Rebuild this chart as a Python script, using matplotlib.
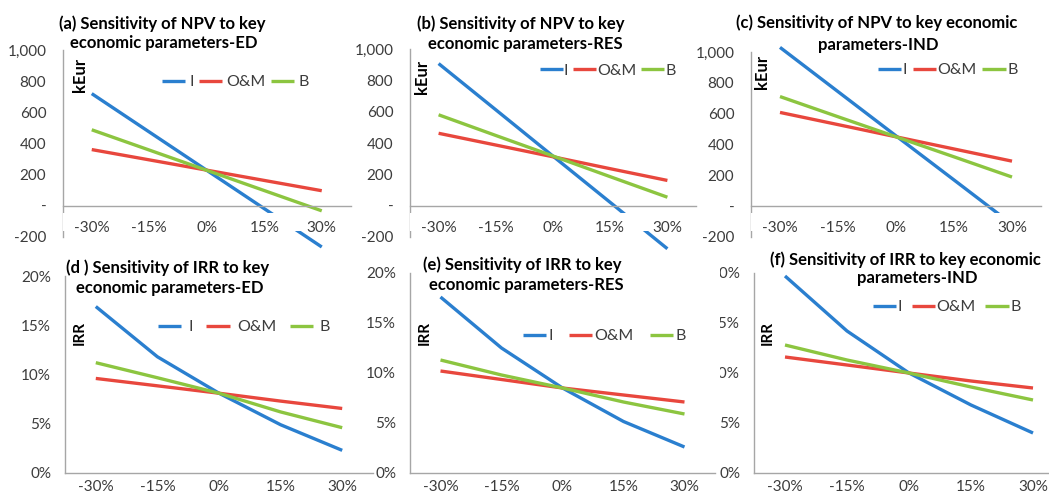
import matplotlib
matplotlib.use("Agg")
import matplotlib.pyplot as plt
import numpy as np
from matplotlib.patches import Rectangle

plt.rcParams['font.family'] = ['Lato', 'DejaVu Sans']

# ---------------- data ----------------
categories = ["-30%", "-15%", "0%", "15%", "30%"]
series_names = ["I", "O&M", "B"]

npv_ed_I = [720, 474, 228, -18, -264]
npv_ed_OM = [361, 295, 229, 163, 97]
npv_ed_B = [488, 358, 228, 98, -32]

npv_res_I = [907, 612, 316, 21, -275]
npv_res_OM = [462, 387, 312, 236, 161]
npv_res_B = [580, 448, 317, 185, 54]

npv_ind_I = [1030, 743, 456, 170, -117]
npv_ind_OM = [608, 529, 450, 371, 292]
npv_ind_B = [711, 580, 450, 320, 189]

irr_ed_I = [0.169, 0.118, 0.081, 0.049, 0.023]
irr_ed_OM = [0.096, 0.0885, 0.081, 0.073, 0.0655]
irr_ed_B = [0.112, 0.0967, 0.081, 0.062, 0.046]

irr_res_I = [0.176, 0.125, 0.085, 0.0515, 0.026]
irr_res_OM = [0.102, 0.0935, 0.085, 0.078, 0.071]
irr_res_B = [0.113, 0.098, 0.085, 0.071, 0.059]

irr_ind_I = [0.197, 0.142, 0.100, 0.068, 0.040]
irr_ind_OM = [0.116, 0.108, 0.100, 0.092, 0.085]
irr_ind_B = [0.128, 0.113, 0.100, 0.086, 0.073]

npv_ticks = [-200, 0, 200, 400, 600, 800, 1000]
irr_ticks = [0.0, 0.05, 0.10, 0.15, 0.20]

titles = [
    ["(a) Sensitivity of NPV to key", "economic parameters-ED"],
    ["(b) Sensitivity of NPV to key", "economic parameters-RES"],
    ["(c) Sensitivity of NPV to key economic", "parameters-IND"],
    ["(d ) Sensitivity of IRR to key", "economic parameters-ED"],
    ["(e) Sensitivity of IRR to key", "economic parameters-RES"],
    ["(f) Sensitivity of IRR to key economic", "parameters-IND"],
]

# ---------------- style ----------------
colors = ['#2a7fcf', '#e8473d', '#8cc540']
axis_color = '#a6a6a6'
text_color = '#3c3c3c'
W, H = 1049, 497
TICK_FS = 11
LEG_FS = 11.5
TITLE_FS = 12

fig = plt.figure(figsize=(W / 100, H / 100), dpi=100)
fig.patch.set_facecolor('white')


def add_ax(x0, x1, ytop, ybot, z=0):
    ax = fig.add_axes([x0 / W, 1 - ybot / H, (x1 - x0) / W, (ybot - ytop) / H])
    ax.set_zorder(z)
    ax.patch.set_visible(False)
    return ax


def ftext(x, y, s, **kw):
    fig.text(x / W, 1 - y / H, s, **kw)


def style(ax, kind):
    x = np.arange(len(categories))
    ax.set_xlim(-0.5, len(categories) - 0.5)
    ax.set_xticks(x)
    ax.set_xticklabels(categories)
    for s in ['top', 'right']:
        ax.spines[s].set_visible(False)
    for s in ['left', 'bottom']:
        ax.spines[s].set_color(axis_color)
        ax.spines[s].set_linewidth(1.0)
    if kind == 'npv':
        ax.set_ylim(-200, 1000)
        ax.set_yticks(npv_ticks)
        ax.set_yticklabels(['-' if v == 0 else f'{v:,}' for v in npv_ticks])
        ax.spines['bottom'].set_position(('data', 0))
        ax.tick_params(axis='y', length=0, pad=12, labelsize=TICK_FS, labelcolor=text_color)
        ax.tick_params(axis='x', length=0, pad=11, labelsize=TICK_FS, labelcolor=text_color)
        band = Rectangle((0, 0.03), 1, 0.10, transform=ax.transAxes,
                         facecolor='white', edgecolor='none', zorder=2.6)
        ax.add_patch(band)
        ax.xaxis.set_zorder(3)
    else:
        ax.set_ylim(0, 0.2)
        ax.set_yticks(irr_ticks)
        ax.set_yticklabels([f'{round(v * 100)}%' for v in irr_ticks])
        ax.tick_params(axis='y', length=0, pad=10, labelsize=TICK_FS, labelcolor=text_color)
        ax.tick_params(axis='x', length=0, pad=5, labelsize=TICK_FS, labelcolor=text_color)


def plot_lines(ax, ys):
    x = np.arange(len(categories))
    for y, c, n in zip(ys, colors, series_names):
        ax.plot(x, y, color=c, lw=2.4, label=n, clip_on=False,
                solid_capstyle='butt', zorder=2)


def legend(ax, lx, cy, htp, cs):
    ax.legend(loc='center left', bbox_to_anchor=(lx / W, 1 - cy / H),
              bbox_transform=fig.transFigure, ncol=3, frameon=False,
              fontsize=LEG_FS, handlelength=1.45, handletextpad=htp,
              columnspacing=cs, labelcolor=text_color, borderpad=0,
              borderaxespad=0)


# panel geometry (pixels): x0, x1, ytop, ybottom
ax_a = add_ax(63, 350.5, 50, 237, 1)
ax_b = add_ax(410, 696, 49, 237, 1)
ax_c = add_ax(751, 1041, 52, 237, 0)
ax_d = add_ax(65, 373, 276, 473, 2)
ax_e = add_ax(410, 715, 273, 473, 1)
ax_f = add_ax(754, 1064, 273, 473, 0)

for ax, ys in [(ax_a, [npv_ed_I, npv_ed_OM, npv_ed_B]),
               (ax_b, [npv_res_I, npv_res_OM, npv_res_B]),
               (ax_c, [npv_ind_I, npv_ind_OM, npv_ind_B])]:
    style(ax, 'npv')
    plot_lines(ax, ys)

for ax, ys in [(ax_d, [irr_ed_I, irr_ed_OM, irr_ed_B]),
               (ax_e, [irr_res_I, irr_res_OM, irr_res_B]),
               (ax_f, [irr_ind_I, irr_ind_OM, irr_ind_B])]:
    style(ax, 'irr')
    plot_lines(ax, ys)

# chart area of (e) hides the left part of (f)'s axis labels
ax_e.add_patch(Rectangle((0.9, -0.2), 0.117, 1.25, transform=ax_e.transAxes,
                         facecolor='white', edgecolor='none', zorder=0.5,
                         clip_on=False))

legend(ax_a, 162, 82, 0.25, 0.35)
legend(ax_b, 540, 71, 0.05, 0.3)
legend(ax_c, 878, 70, 0.1, 0.35)
legend(ax_d, 158, 327, 0.45, 0.85)
legend(ax_e, 523, 336, 0.15, 1.0)
legend(ax_f, 873, 307, 0.1, 0.6)

# axis titles
for x, y, s, fs in [(80, 75, 'kEur', 12), (422, 77, 'kEur', 12), (762, 72, 'kEur', 12),
                    (80, 333, 'IRR', 11), (425, 333, 'IRR', 11), (768, 333, 'IRR', 11)]:
    ftext(x, y, s, rotation=90, ha='center', va='center', fontsize=fs,
          fontweight='bold', color='black')

# chart titles
title_pos = [((162, 24), (164, 43)), ((521, 24), (525, 44)), ((877, 23), (878, 45)),
             ((168, 268), (170, 288)), ((522, 265), (526, 285)), ((905, 260), (917, 278))]
for (l1, l2), ((x1, y1), (x2, y2)) in zip(titles, title_pos):
    ftext(x1, y1, l1, ha='center', va='center', fontsize=TITLE_FS, fontweight='bold', color='black')
    ftext(x2, y2, l2, ha='center', va='center', fontsize=TITLE_FS, fontweight='bold', color='black')

fig.savefig('out.png', dpi=100, facecolor='white')
